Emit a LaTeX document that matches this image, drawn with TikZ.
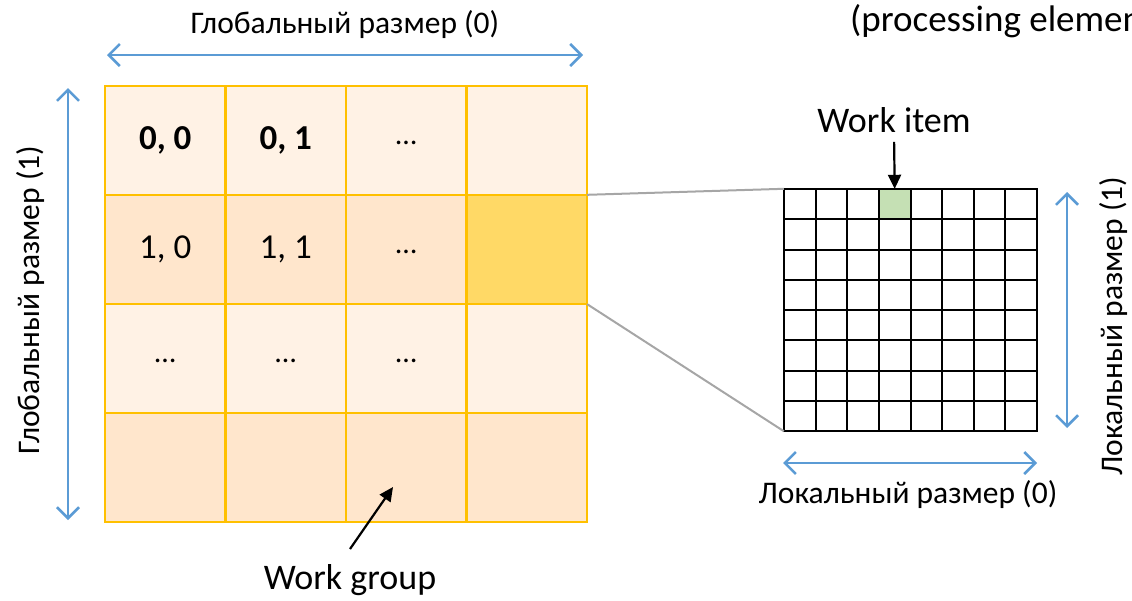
\documentclass[tikz,border=0pt]{standalone}
\usepackage{fontspec}
\setmainfont{Carlito}
\usetikzlibrary{arrows.meta}
\definecolor{gridgold}{HTML}{FFC000}
\definecolor{celllight}{HTML}{FFF2E5}
\definecolor{celldark}{HTML}{FFE6CC}
\definecolor{cellhot}{HTML}{FFD966}
\definecolor{itemgreen}{HTML}{C5E0B4}
\definecolor{dimblue}{HTML}{5B9BD5}
\definecolor{linkgray}{HTML}{A6A6A6}
\tikzset{
  wgcell/.style={minimum width=120.5pt, minimum height=109pt, inner sep=0pt},
  wgline/.style={draw=gridgold, line width=2.5pt, line cap=rect},
  wicell/.style={fill=white, minimum width=31.625pt, minimum height=30.25pt, inner sep=0pt},
  wiline/.style={draw=black, line width=2.4pt, line cap=rect},
  dimarrow/.style={draw=dimblue, line width=2.5pt, {Straight Barb[length=11pt,width=22pt,line width=2.5pt]}-{Straight Barb[length=11pt,width=22pt,line width=2.5pt]}},
  dimlabel/.style={font=\fontsize{31.5}{35}\selectfont, inner sep=0pt},
  bigl/.style={font=\fontsize{36}{40}\selectfont, inner sep=0pt},
  cellnum/.style={font=\fontsize{35}{40}\selectfont},
  cellnumbold/.style={font=\fontsize{35}{40}\selectfont\bfseries},
  pointer/.style={draw=black, line width=2.2pt, -{Triangle[length=14pt,width=13pt]}},
  link/.style={draw=linkgray, line width=2pt}
}
\begin{document}
\begin{tikzpicture}[x=1pt,y=-1pt]
\useasboundingbox (0,0) rectangle (1132,600);
\clip (0,0) rectangle (1132,600);

% work-group grid (4 x 4): cell fills
\foreach \r/\fc in {0/celllight,1/celldark,2/celllight,3/celldark}{
  \foreach \c in {0,1,2,3}{
    \node[wgcell, fill=\fc] (wg-\r-\c) at ({105+120.5*(\c+0.5)},{86+109*(\r+0.5)}) {};
  }
}
\node[wgcell, fill=cellhot] (wg-1-3) at ({105+120.5*3.5},{86+109*1.5}) {};
% work-group grid lines
\foreach \k in {0,...,4}{
  \draw[wgline] ({105+120.5*\k},86) -- ({105+120.5*\k},522);
  \draw[wgline] (105,{86+109*\k}) -- (587,{86+109*\k});
}

% cell labels
\node[cellnumbold] at (wg-0-0) {0, 0};
\node[cellnumbold] at (wg-0-1) {0, 1};
\node[cellnum] at (wg-1-0) {1, 0};
\node[cellnum] at (wg-1-1) {1, 1};
\foreach \r/\c in {0/2,1/2,2/0,2/1,2/2}{
  \node[font=\fontsize{30}{34}\selectfont, anchor=base, inner sep=0pt] at ([yshift=-4pt]wg-\r-\c.center) {…};
}

% work-item grid (8 x 8): cell fills
\foreach \r in {0,...,7}{
  \foreach \c in {0,...,7}{
    \node[wicell] (wi-\r-\c) at ({784+31.625*(\c+0.5)},{189+30.25*(\r+0.5)}) {};
  }
}
\node[wicell, fill=itemgreen] (wi-0-3) at ({784+31.625*3.5},{189+30.25*0.5}) {};
% work-item grid lines, on whole-pixel positions
\foreach \x in {784,816,847,879,911,942,974,1005,1037}{
  \draw[wiline] (\x,189) -- (\x,431);
}
\foreach \y in {189,219,250,280,310,340,371,401,431}{
  \draw[wiline] (784,\y) -- (1037,\y);
}

% zoom lines from the highlighted group to the item grid
\draw[link] (wg-1-3.north east) -- (wi-0-0.north west);
\draw[link] (wg-1-3.south east) -- (wi-7-0.south west);

% global size arrows and labels
\coordinate (g0a) at (107,55);
\coordinate (g0b) at (583,55);
\draw[dimarrow] (g0a) -- (g0b);
\node[dimlabel] (g0) at (345,25) {Глобальный размер (0)};
\coordinate (g1a) at (68,88);
\coordinate (g1b) at (68,520);
\draw[dimarrow] (g1a) -- (g1b);
\node[dimlabel, rotate=90] (g1) at (31,300) {Глобальный размер (1)};

% local size arrows and labels
\coordinate (l0a) at (783,463);
\coordinate (l0b) at (1037,463);
\draw[dimarrow] (l0a) -- (l0b);
\node[dimlabel] (l0) at (908,495) {Локальный размер (0)};
\coordinate (l1a) at (1067,192);
\coordinate (l1b) at (1067,428);
\draw[dimarrow] (l1a) -- (l1b);
\node[dimlabel, rotate=90] (l1) at (1114,326) {Локальный размер (1)};

% pointers
\node[bigl] (witem) at (894,120) {Work item};
\draw[pointer, shorten <=9pt] (witem.south) -- (wi-0-3.north);
\node[bigl] (wgroup) at (350,580) {Work group};
\coordinate (wgtip) at (393,487);
\draw[pointer] (350,549) -- (wgtip);

\node[bigl, font=\fontsize{37}{41}\selectfont, anchor=west] (pe) at (850,21) {(processing elements)};
\end{tikzpicture}
\end{document}
